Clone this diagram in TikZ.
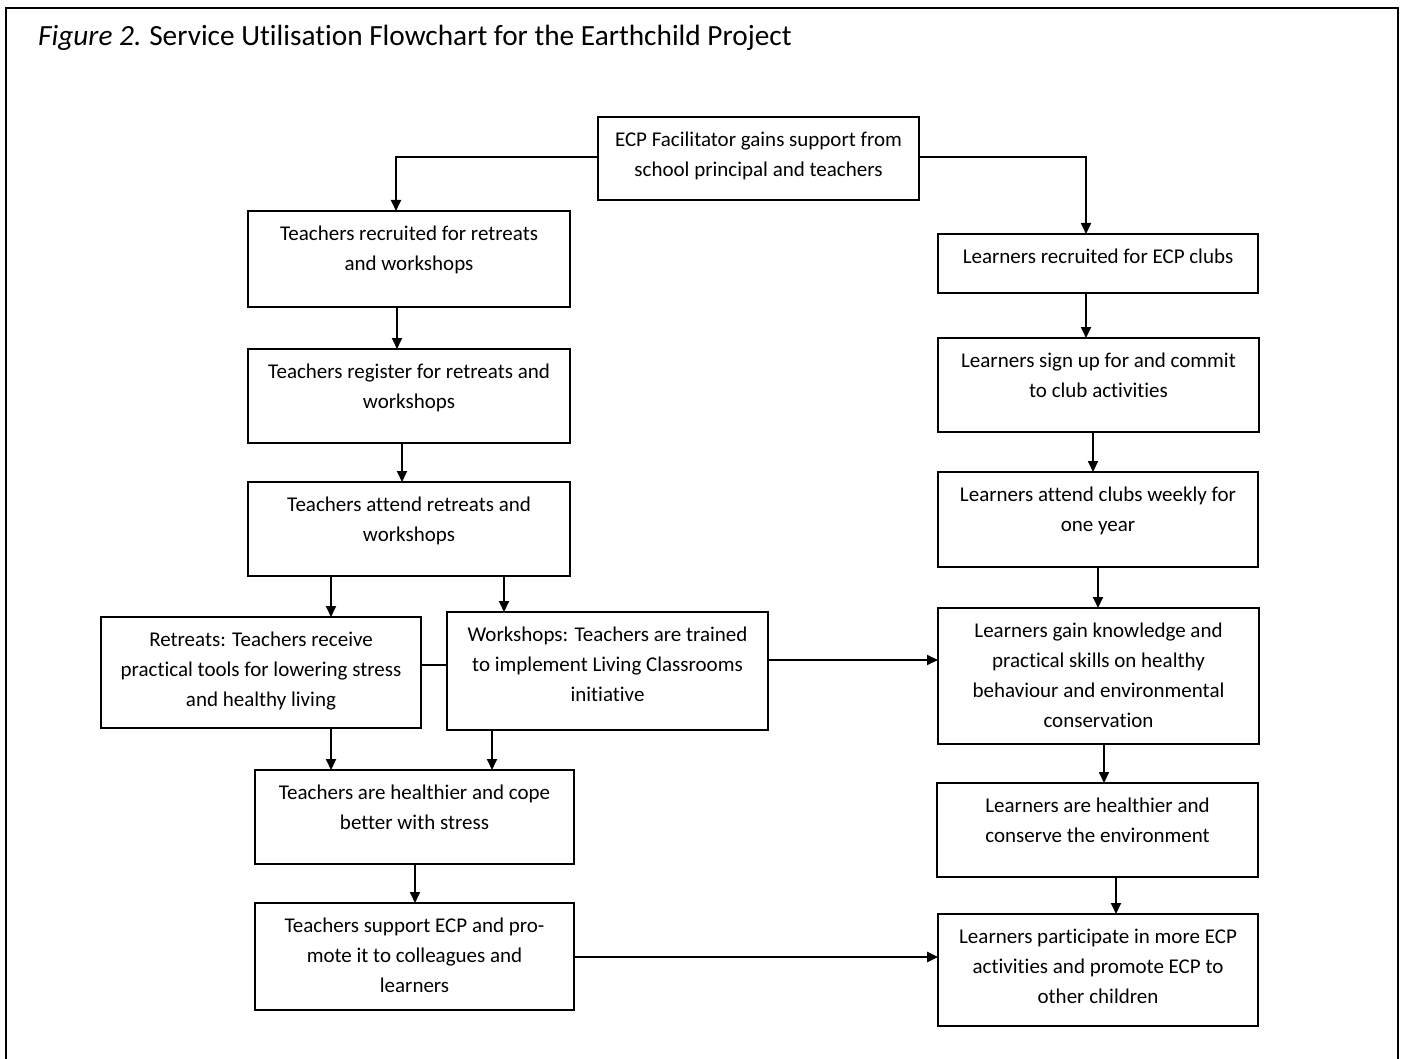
\documentclass[tikz,border=0pt]{standalone}
\usepackage{fontspec}
\setmainfont{Carlito}[Ligatures=NoCommon]
\usetikzlibrary{arrows.meta,calc}
\tikzset{
  box/.style={draw, line width=1.8pt, inner sep=0pt, outer sep=0pt, rectangle},
  txt/.style={anchor=north, align=center, inner sep=0pt, font=\fontsize{21}{29.8}\selectfont},
  arr/.style={line width=1.8pt, -{Triangle[length=11pt,width=10pt]}},
  conn/.style={line width=1.8pt},
}
\newcommand{\flowbox}[6]{% name, x1, y1, x2, y2, text
  \node[box, minimum width={#4-#2}, minimum height={#5-#3}] (#1) at ({(#2+#4)/2},{(#3+#5)/2}) {};
  \node[txt] (#1t) at ($(#1.north)+(0,8.8)$) {\strut #6};
}
\begin{document}
\begin{tikzpicture}[x=1pt,y=-1pt]
\useasboundingbox (0,0) rectangle (1402,1059);
\draw[line width=2.2pt] (6,1070) -- (6,8) -- (1398,8) -- (1398,1070);
\node[anchor=base west, inner sep=0pt, font=\fontsize{29.3}{32}\selectfont] (title) at (38,46) {\textit{Figure 2.}\hspace{-1pt} Service Utilisation Flowchart for the Earthchild Project};

\flowbox{ecp}{598}{117}{919}{200}{ECP Facilitator gains support from\\school principal and teachers}
\flowbox{T1}{248}{211}{570}{307}{Teachers recruited for retreats\\and workshops}
\flowbox{T2}{248}{349}{570}{443}{Teachers register for retreats and\\workshops}
\flowbox{T3}{248}{482}{570}{576}{Teachers attend retreats and\\workshops}
\flowbox{R}{101}{617}{421}{728}{Retreats: Teachers receive\\practical tools for lowering stress\\and healthy living}
\flowbox{W}{447}{612}{768}{730}{Workshops: Teachers are trained\\to implement Living Classrooms\\initiative}
\flowbox{T4}{255}{770}{574}{864}{Teachers are healthier and cope\\better with stress}
\flowbox{T5}{255}{903}{574}{1010}{Teachers support ECP and pro-\\mote it to colleagues and\\learners}
\flowbox{L1}{938}{234}{1258}{293}{Learners recruited for ECP clubs}
\flowbox{L2}{938}{338}{1259}{432}{Learners sign up for and commit\\to club activities}
\flowbox{L3}{938}{472}{1258}{567}{Learners attend clubs weekly for\\one year}
\flowbox{L4}{938}{608}{1259}{744}{Learners gain knowledge and\\practical skills on healthy\\behaviour and environmental\\conservation}
\flowbox{L5}{937}{783}{1258}{877}{Learners are healthier and\\conserve the environment}
\flowbox{L6}{938}{914}{1258}{1026}{Learners participate in more ECP\\activities and promote ECP to\\other children}

\foreach \v in {331,396,397,402,415,492,504,1086,1093,1098,1104,1116}{\coordinate (x\v) at (\v,0);}
\foreach \v in {157,660,665,957}{\coordinate (y\v) at (0,\v);}

\draw[arr] (ecp.west |- y157) -| (T1.north -| x396);
\draw[arr] (ecp.east |- y157) -| (L1.north -| x1086);
\draw[arr] (T1.south -| x397) -- (T2.north -| x397);
\draw[arr] (T2.south -| x402) -- (T3.north -| x402);
\draw[arr] (T3.south -| x331) -- (R.north -| x331);
\draw[arr] (T3.south -| x504) -- (W.north -| x504);
\draw[conn] (R.east |- y665) -- (W.west |- y665);
\draw[arr] (W.east |- y660) -- (L4.west |- y660);
\draw[arr] (R.south -| x331) -- (T4.north -| x331);
\draw[arr] (W.south -| x492) -- (T4.north -| x492);
\draw[arr] (T4.south -| x415) -- (T5.north -| x415);
\draw[arr, line width=2.6pt] (T5.east |- y957) -- (L6.west |- y957);
\draw[arr] (L1.south -| x1086) -- (L2.north -| x1086);
\draw[arr] (L2.south -| x1093) -- (L3.north -| x1093);
\draw[arr] (L3.south -| x1098) -- (L4.north -| x1098);
\draw[arr] (L4.south -| x1104) -- (L5.north -| x1104);
\draw[arr] (L5.south -| x1116) -- (L6.north -| x1116);
\end{tikzpicture}
\end{document}
